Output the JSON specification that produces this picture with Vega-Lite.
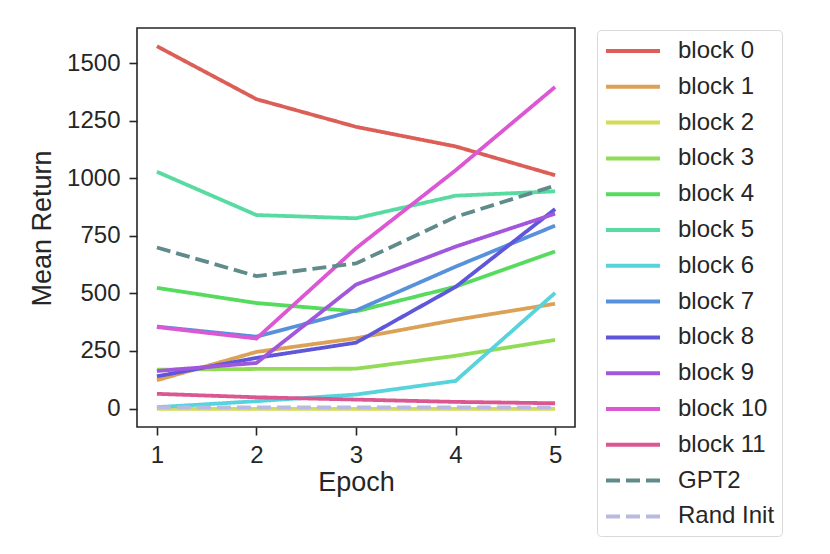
{
  "$schema": "https://vega.github.io/schema/vega-lite/v6.json",
  "width": 438,
  "height": 399,
  "autosize": {"type": "none"},
  "padding": {"left": 137, "top": 28, "right": 255, "bottom": 127},
  "background": "white",
  "data": {
    "values": [
      {"series": "block 0", "epoch": 1, "ret": 1573}, {"series": "block 0", "epoch": 2, "ret": 1343}, {"series": "block 0", "epoch": 3, "ret": 1223}, {"series": "block 0", "epoch": 4, "ret": 1138}, {"series": "block 0", "epoch": 5, "ret": 1013},
      {"series": "block 1", "epoch": 1, "ret": 123}, {"series": "block 1", "epoch": 2, "ret": 246}, {"series": "block 1", "epoch": 3, "ret": 305}, {"series": "block 1", "epoch": 4, "ret": 385}, {"series": "block 1", "epoch": 5, "ret": 455},
      {"series": "block 2", "epoch": 1, "ret": -1}, {"series": "block 2", "epoch": 2, "ret": -1}, {"series": "block 2", "epoch": 3, "ret": -1}, {"series": "block 2", "epoch": 4, "ret": -1}, {"series": "block 2", "epoch": 5, "ret": -1},
      {"series": "block 3", "epoch": 1, "ret": 169}, {"series": "block 3", "epoch": 2, "ret": 172}, {"series": "block 3", "epoch": 3, "ret": 173}, {"series": "block 3", "epoch": 4, "ret": 229}, {"series": "block 3", "epoch": 5, "ret": 298},
      {"series": "block 4", "epoch": 1, "ret": 524}, {"series": "block 4", "epoch": 2, "ret": 458}, {"series": "block 4", "epoch": 3, "ret": 422}, {"series": "block 4", "epoch": 4, "ret": 529}, {"series": "block 4", "epoch": 5, "ret": 682},
      {"series": "block 5", "epoch": 1, "ret": 1028}, {"series": "block 5", "epoch": 2, "ret": 840}, {"series": "block 5", "epoch": 3, "ret": 826}, {"series": "block 5", "epoch": 4, "ret": 924}, {"series": "block 5", "epoch": 5, "ret": 943},
      {"series": "block 6", "epoch": 1, "ret": 6}, {"series": "block 6", "epoch": 2, "ret": 32}, {"series": "block 6", "epoch": 3, "ret": 61}, {"series": "block 6", "epoch": 4, "ret": 120}, {"series": "block 6", "epoch": 5, "ret": 502},
      {"series": "block 7", "epoch": 1, "ret": 356}, {"series": "block 7", "epoch": 2, "ret": 312}, {"series": "block 7", "epoch": 3, "ret": 426}, {"series": "block 7", "epoch": 4, "ret": 616}, {"series": "block 7", "epoch": 5, "ret": 794},
      {"series": "block 8", "epoch": 1, "ret": 140}, {"series": "block 8", "epoch": 2, "ret": 220}, {"series": "block 8", "epoch": 3, "ret": 286}, {"series": "block 8", "epoch": 4, "ret": 528}, {"series": "block 8", "epoch": 5, "ret": 866},
      {"series": "block 9", "epoch": 1, "ret": 163}, {"series": "block 9", "epoch": 2, "ret": 198}, {"series": "block 9", "epoch": 3, "ret": 538}, {"series": "block 9", "epoch": 4, "ret": 703}, {"series": "block 9", "epoch": 5, "ret": 846},
      {"series": "block 10", "epoch": 1, "ret": 354}, {"series": "block 10", "epoch": 2, "ret": 304}, {"series": "block 10", "epoch": 3, "ret": 696}, {"series": "block 10", "epoch": 4, "ret": 1034}, {"series": "block 10", "epoch": 5, "ret": 1396},
      {"series": "block 11", "epoch": 1, "ret": 64}, {"series": "block 11", "epoch": 2, "ret": 49}, {"series": "block 11", "epoch": 3, "ret": 39}, {"series": "block 11", "epoch": 4, "ret": 29}, {"series": "block 11", "epoch": 5, "ret": 23},
      {"series": "GPT2", "epoch": 1, "ret": 699}, {"series": "GPT2", "epoch": 2, "ret": 575}, {"series": "GPT2", "epoch": 3, "ret": 630}, {"series": "GPT2", "epoch": 4, "ret": 832}, {"series": "GPT2", "epoch": 5, "ret": 968},
      {"series": "Rand Init", "epoch": 1, "ret": 5}, {"series": "Rand Init", "epoch": 2, "ret": 5}, {"series": "Rand Init", "epoch": 3, "ret": 5}, {"series": "Rand Init", "epoch": 4, "ret": 5}, {"series": "Rand Init", "epoch": 5, "ret": 5}
    ]
  },
  "mark": {"type": "line", "strokeWidth": 3.8, "strokeCap": "butt"},
  "encoding": {
    "x": {
      "field": "epoch",
      "type": "quantitative",
      "scale": {"domain": [0.8, 5.2], "nice": false, "zero": false},
      "axis": {
        "title": "Epoch",
        "values": [1, 2, 3, 4, 5],
        "format": "d",
        "labelBaseline": "alphabetic",
        "labelPadding": 27,
        "titleBaseline": "alphabetic",
        "titleX": 219,
        "titleY": 63
      }
    },
    "y": {
      "field": "ret",
      "type": "quantitative",
      "scale": {"domain": [-80, 1652], "nice": false, "zero": false},
      "axis": {
        "title": "Mean Return",
        "values": [0, 250, 500, 750, 1000, 1250, 1500],
        "format": "d",
        "labelPadding": 9,
        "titleAngle": -90,
        "titleBaseline": "middle",
        "titleAlign": "center",
        "titleX": -95,
        "titleY": 200
      }
    },
    "color": {
      "field": "series",
      "type": "nominal",
      "scale": {
        "domain": ["block 0", "block 1", "block 2", "block 3", "block 4", "block 5", "block 6", "block 7", "block 8", "block 9", "block 10", "block 11", "GPT2", "Rand Init"],
        "range": ["#db5f57", "#dba157", "#d3db57", "#91db57", "#57db5f", "#57dba1", "#57d3db", "#5791db", "#5f57db", "#a157db", "#db57d3", "#db5791", "#5f8b8a", "#b9bae0"]
      },
      "legend": {"orient": "none", "legendX": 460, "legendY": 2, "title": null, "labelExpr": "datum.label + ' '"}
    },
    "strokeDash": {
      "field": "series",
      "type": "nominal",
      "scale": {
        "domain": ["block 0", "block 1", "block 2", "block 3", "block 4", "block 5", "block 6", "block 7", "block 8", "block 9", "block 10", "block 11", "GPT2", "Rand Init"],
        "range": [[1, 0], [1, 0], [1, 0], [1, 0], [1, 0], [1, 0], [1, 0], [1, 0], [1, 0], [1, 0], [1, 0], [1, 0], [14, 6], [14, 6]]
      },
      "legend": {"orient": "none", "legendX": 460, "legendY": 2, "title": null, "labelExpr": "datum.label + ' '"}
    },
    "order": {"field": "epoch"}
  },
  "config": {
    "font": "Liberation Sans",
    "view": {"stroke": "#262626", "strokeWidth": 1.6},
    "axis": {
      "grid": false,
      "domain": false,
      "labelFont": "Liberation Sans",
      "labelFontSize": 24,
      "labelColor": "#262626",
      "titleFont": "Liberation Sans",
      "titleFontSize": 27,
      "titleFontWeight": "normal",
      "titleColor": "#262626",
      "tickColor": "#262626",
      "tickWidth": 1.6,
      "tickSize": 8
    },
    "legend": {
      "labelFont": "Liberation Sans",
      "labelFontSize": 24,
      "labelColor": "#262626",
      "symbolType": "M-1,0H3.5",
      "symbolSize": 576,
      "symbolStrokeWidth": 4,
      "labelOffset": 46,
      "rowPadding": 9.8,
      "padding": 7,
      "strokeColor": "#d9d9d9",
      "fillColor": "white",
      "cornerRadius": 4,
      "labelLimit": 300
    }
  }
}
